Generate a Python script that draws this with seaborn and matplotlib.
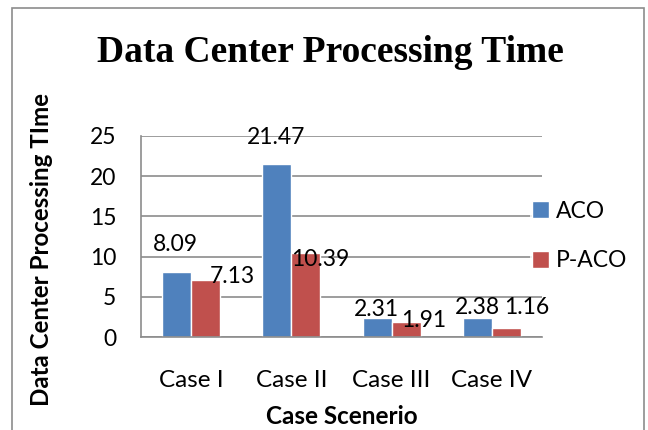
import matplotlib
matplotlib.use("Agg")
import matplotlib.pyplot as plt
import matplotlib.patches as mpatches
import seaborn as sns
import pandas as pd

categories = ["Case I", "Case II", "Case III", "Case IV"]
aco = [8.09, 21.47, 2.31, 2.38]
paco = [7.13, 10.39, 1.91, 1.16]
series_names = ["ACO", "P-ACO"]
yticks = [0, 5, 10, 15, 20, 25]

# label offsets (pixels, dx, dy with y up) mimicking manual placement
aco_off = [(-1, 27), (-1, 27), (-1, 9), (0, 10)]
paco_off = [(27, 3), (14, -6), (18, 1), (20, 20)]

df = pd.DataFrame({
    "Case": categories * 2,
    "Time": aco + paco,
    "Series": [series_names[0]] * 4 + [series_names[1]] * 4,
})

sns.set_theme(style="white")
plt.rcParams["font.family"] = ["Lato", "DejaVu Sans"]

W, H = 648, 430
fig = plt.figure(figsize=(W / 100, H / 100), dpi=100)
ax = fig.add_axes([141 / W, 1 - 337 / H, 401 / W, 201 / H])

palette = {"ACO": "#4F81BD", "P-ACO": "#C0504D"}
sns.barplot(data=df, x="Case", y="Time", hue="Series", palette=palette,
            width=0.58, ax=ax, saturation=1, errorbar=None, legend=True)

ax.set_ylim(0, 25)
ax.set_xlim(-0.5, 3.5)
ax.set_yticks(yticks)
ax.set_yticklabels([str(t) for t in yticks], fontsize=16.5, color="black")
ax.tick_params(axis="y", length=5.8, width=1.2, color="#8C8C8C", pad=12)
ax.tick_params(axis="x", length=0, pad=24, labelsize=17.5, labelcolor="black")
ax.yaxis.grid(True, color="#8C8C8C", lw=1.2)
ax.set_axisbelow(True)
for s in ["top", "right"]:
    ax.spines[s].set_visible(False)
for s in ["left", "bottom"]:
    ax.spines[s].set_color("#8C8C8C")
    ax.spines[s].set_linewidth(1.2)

ax.set_xlabel("Case Scenerio", fontsize=17.5, fontweight="bold", labelpad=9.5,
              color="black")
ax.set_ylabel("")
fig.text(42 / W, 1 - 249 / H, "Data Center Processing TIme", rotation=90,
         ha="center", va="center", fontsize=17.4, fontweight="bold",
         color="black")

fig.text(330 / W, 1 - 52 / H, "Data Center Processing Time",
         family="Liberation Serif", fontweight="bold", fontsize=27,
         ha="center", va="center", color="black")

# value labels
bars_aco = ax.containers[0]
bars_paco = ax.containers[1]
for bars, vals, offs in [(bars_aco, aco, aco_off), (bars_paco, paco, paco_off)]:
    for b, v, (dx, dy) in zip(bars, vals, offs):
        ax.annotate(f"{v:.2f}", (b.get_x() + b.get_width() / 2, v),
                    xytext=(dx * 0.72, dy * 0.72), textcoords="offset points",
                    ha="center", va="center", fontsize=16.5, color="black")

leg = ax.legend(loc="center left", bbox_to_anchor=(530 / W, 1 - 236 / H),
                bbox_transform=fig.transFigure, frameon=True, fontsize=16.5,
                handlelength=0.75, handleheight=0.75, handletextpad=0.3,
                labelspacing=1.25, borderpad=0.1, borderaxespad=0)
leg.get_frame().set_facecolor("white")
leg.get_frame().set_edgecolor("white")
leg.get_frame().set_linewidth(0)
for t in leg.get_texts():
    t.set_color("black")

border = mpatches.Rectangle((12 / W, -0.1), 632 / W, 1.1 - 8 / H,
                            transform=fig.transFigure, fill=False,
                            edgecolor="#8C8C8C", lw=1.2)
fig.patches.append(border)

fig.savefig("out.png", dpi=100)
